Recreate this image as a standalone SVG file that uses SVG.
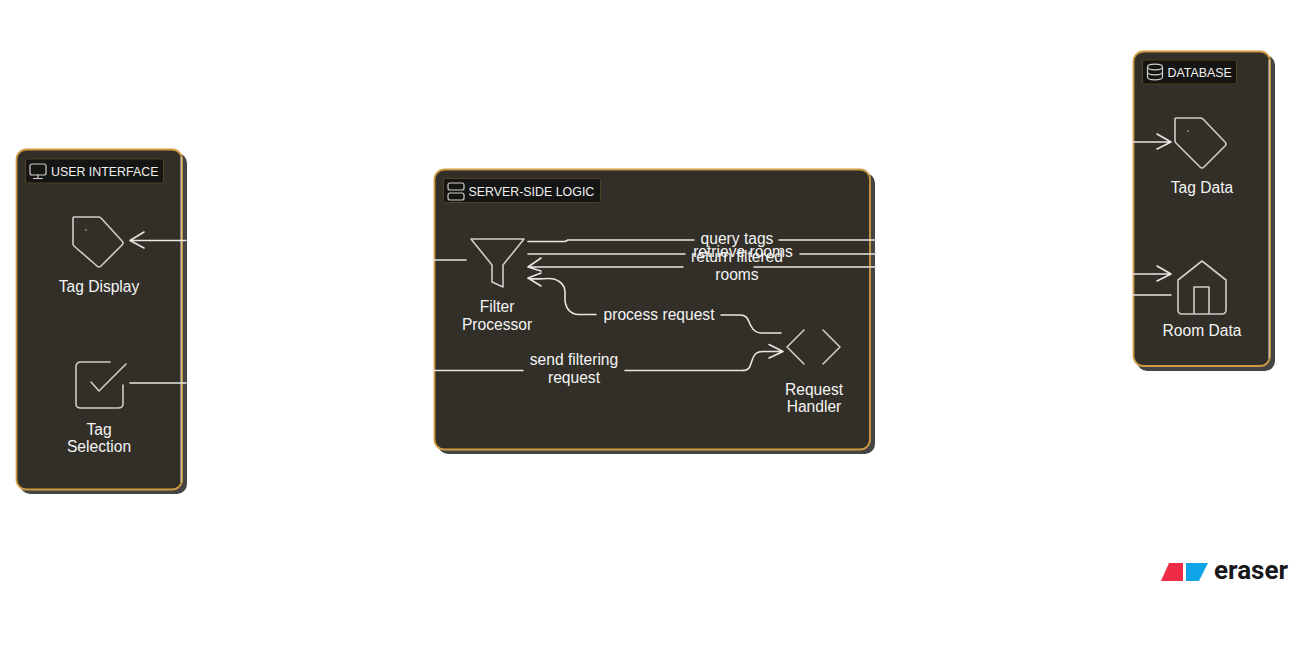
<svg xmlns="http://www.w3.org/2000/svg" width="1311" height="650" viewBox="0 0 1311 650">
<defs>
<style>
.shadow{fill:#444443}
.box{fill:#322f28;stroke:#cf9a41;stroke-width:1.8}
.hi{fill:none;stroke:#f2efe8;stroke-width:0.9}
.tagbg{fill:#151513;stroke:#4d4128;stroke-width:1}
.tagt{font:12.4px "Liberation Sans",Arial,sans-serif;fill:#f0f0f0}
.lab{font:15.6px "Liberation Sans",Arial,sans-serif;fill:#f4f4f4;text-anchor:middle}
.ic{fill:none;stroke:#cfcdc7;stroke-width:1.6;stroke-linejoin:round;stroke-linecap:round}
.ic2{fill:none;stroke:#cfcdc7;stroke-width:1.2;stroke-linejoin:round;stroke-linecap:round}
.c{fill:none;stroke:#e8e6e0;stroke-width:1.6;stroke-linecap:round;stroke-linejoin:round}
</style>
</defs>
<rect width="1311" height="650" fill="#ffffff"/>
<g id="user-interface">
<rect class="shadow" x="20" y="153" width="167" height="341" rx="10"/>
<rect class="box" x="16.500" y="149.500" width="165.500" height="340" rx="10"/>
<path class="hi" d="M181 157V482"/>
<rect class="tagbg" x="25.500" y="159" width="138" height="24" rx="2"/>
<g class="ic2"><rect x="30" y="164" width="16" height="11" rx="2"/><path d="M38 175v3M33.500 178.500h9"/></g>
<text class="tagt" x="51" y="175.500">USER INTERFACE</text>
</g>
<g id="server-side-logic">
<rect class="shadow" x="438" y="173" width="437" height="281" rx="10"/>
<rect class="box" x="434.500" y="169.500" width="435.500" height="280" rx="10"/>
<rect class="tagbg" x="443.500" y="178.500" width="157" height="24" rx="2"/>
<g class="ic2"><rect x="448" y="183" width="16" height="7" rx="2"/><rect x="448" y="193" width="16" height="7" rx="2"/></g>
<text class="tagt" x="468.500" y="195.500">SERVER-SIDE LOGIC</text>
</g>
<g id="database">
<rect class="shadow" x="1137" y="55" width="138" height="316" rx="10"/>
<rect class="box" x="1133.500" y="51.500" width="136.500" height="314.500" rx="10"/>
<path class="hi" d="M1269 60V358"/>
<rect class="tagbg" x="1142.500" y="60" width="94" height="24" rx="2"/>
<g class="ic2"><ellipse cx="1155" cy="67" rx="7.500" ry="2.800"/><path d="M1147.500 67v10c0 1.600 3.400 2.800 7.500 2.800s7.500-1.200 7.500-2.800v-10M1147.500 72c0 1.600 3.400 2.800 7.500 2.800s7.500-1.200 7.500-2.800"/></g>
<text class="tagt" x="1167.500" y="77">DATABASE</text>
</g>
<g id="connectors">
<path class="c" d="M186 240.500H130M144 232l-14 8.500 14 7.500"/>
<path class="c" d="M130 383H186"/>
<path class="c" d="M433 260H466"/>
<path class="c" d="M433 370.500H523M625 370.500H742c8 0 8-4 10-10 2-6 4-9 11-9H783M769 344.500l14 7-14 6.500"/>
<path class="c" d="M528 241.500H565L568 240H694M779 240H876"/>
<path class="c" d="M528 254H685M800 254H876"/>
<path class="c" d="M876 267H754M683 267H528M541 258l-13 9 13 4"/>
<path class="c" d="M596 314.500H579c-10 0-14-8-14-16v-6c0-10-9-14-16-14-6 0-12 1-21 0M541 273l-13 5 13 8"/>
<path class="c" d="M721 315H740c8 0 8 6 11 11 2 4 6 7 11 7H781"/>
<path class="c" d="M1133 142H1171M1157 134l14 8-14 7"/>
<path class="c" d="M1133 274H1171M1157 266l14 8-14 7"/>
<path class="c" d="M1133 295H1171"/>
</g>
<g id="tag-display">
<path class="ic" d="M74 217H98q2 0 3 1l21 23q2 2 0 4l-21 21q-2 2-4 0L74 246q-1-1-1-2V218q0-1 1-1Z"/>
<circle cx="86" cy="230" r="0.800" fill="#cfcdc7"/>
<text class="lab" x="99" y="292">Tag Display</text>
</g>
<g id="tag-selection">
<path class="ic" d="M110 362H81q-5 0-5 5v37q0 4 5 4h37q5 0 5-4V385M91 382l8 9 27-27"/>
<text class="lab" x="99" y="435">Tag</text>
<text class="lab" x="99" y="452">Selection</text>
</g>
<g id="filter-processor">
<path class="ic" d="M471 239H524L503 265V287L492 282V265Z"/>
<text class="lab" x="497" y="312">Filter</text>
<text class="lab" x="497" y="330">Processor</text>
</g>
<g id="request-handler">
<path class="ic" d="M804 330L787 347 804 364M823 330L840 347 823 364"/>
<text class="lab" x="814" y="395">Request</text>
<text class="lab" x="814" y="412">Handler</text>
</g>
<g id="tag-data">
<path class="ic" d="M1176 118H1200q2 0 3 1l22 23q2 2 0 4l-21 21q-2 2-4 0l-24-24q-1-1-1-2V119q0-1 1-1Z"/>
<circle cx="1188" cy="131" r="0.800" fill="#cfcdc7"/>
<text class="lab" x="1202" y="193">Tag Data</text>
</g>
<g id="room-data">
<path class="ic" d="M1202 261L1226 280V310q0 4-4 4H1182q-4 0-4-4V280ZM1194 314V287H1209V314"/>
<text class="lab" x="1202" y="336">Room Data</text>
</g>
<g id="labels">
<text class="lab" x="737" y="244">query tags</text>
<text class="lab" x="743" y="257">retrieve rooms</text>
<text class="lab" x="737" y="262">return filtered</text>
<text class="lab" x="737" y="280">rooms</text>
<text class="lab" x="659" y="320">process request</text>
<text class="lab" x="574" y="365">send filtering</text>
<text class="lab" x="574" y="383">request</text>
</g>
<g id="eraser-logo">
<path d="M1169 563H1183V581H1161Z" fill="#ee2a47"/>
<path d="M1186 563H1208L1199 581H1186Z" fill="#0ea5e9"/>
<text x="1214" y="579" font-family="Roboto,'Liberation Sans',sans-serif" font-weight="700" font-size="26" fill="#17181c">eraser</text>
</g>
</svg>
